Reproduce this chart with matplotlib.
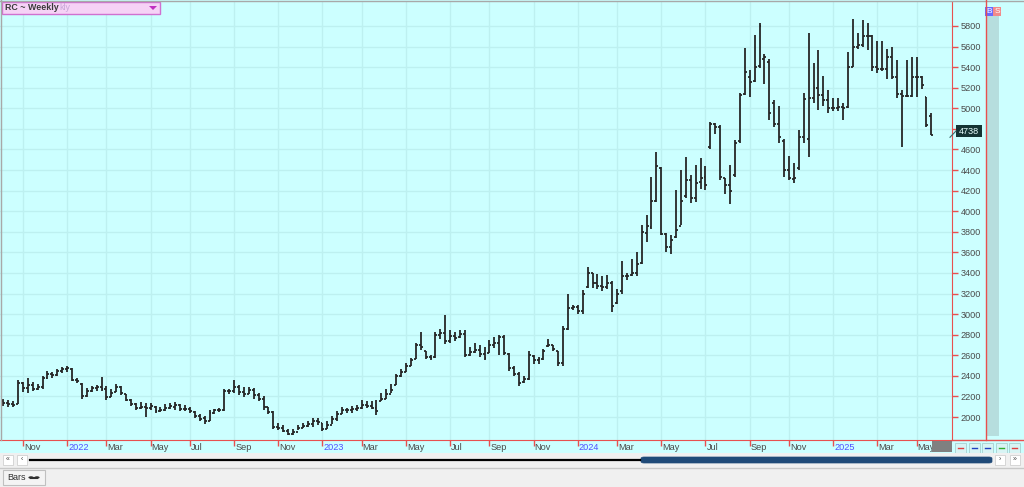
import numpy as np
import pandas as pd
import matplotlib
matplotlib.use('Agg')
from matplotlib import pyplot as plt
from matplotlib import transforms
from matplotlib.patches import Rectangle, FancyBboxPatch, Polygon, Circle

plt.rcParams['font.family'] = ['Liberation Sans', 'DejaVu Sans']

# weekly bars, first bar week of 2021-10-08
start_date = '2021-10-08'
opens = [
    2160, 2140, 2130, 2130, 2330, 2280, 2310, 2270, 2290, 2380,
    2420, 2410, 2450, 2470, 2470, 2360, 2320, 2200, 2250, 2280,
    2290, 2270, 2190, 2240, 2290, 2220, 2170, 2130, 2090, 2100,
    2090, 2100, 2060, 2070, 2090, 2100, 2120, 2080, 2080, 2050,
    2010, 1990, 1960, 2040, 2070, 2070, 2250, 2250, 2290, 2240,
    2220, 2260, 2210, 2180, 2100, 2050, 1900, 1890, 1860, 1840,
    1850, 1890, 1910, 1930, 1960, 1940, 1880, 1920, 1980, 2030,
    2070, 2070, 2080, 2090, 2120, 2110, 2090, 2160, 2180, 2220,
    2310, 2400, 2440, 2500, 2560, 2700, 2640, 2580, 2580, 2800,
    2820, 2740, 2790, 2780, 2810, 2600, 2630, 2650, 2610, 2620,
    2700, 2720, 2780, 2610, 2480, 2420, 2340, 2370, 2590, 2550,
    2560, 2690, 2700, 2640, 2530, 2860, 3060, 3070, 3030, 3260,
    3400, 3300, 3270, 3260, 3300, 3110, 3220, 3370, 3380, 3400,
    3500, 3790, 3850, 4100, 4420, 3780, 3650, 3750, 3860, 4150,
    4300, 4130, 4280, 4330, 4620, 4850, 4820, 4320, 4250, 4350,
    4680, 5140, 5300, 5270, 5410, 5480, 5450, 5050, 4850, 4680,
    4400, 4310, 4420, 4720, 4700, 5100, 5200, 5130, 5080, 5000,
    5000, 5010, 5010, 5400, 5600, 5620, 5700, 5700, 5400, 5380,
    5380, 5500, 5300, 5140, 5120, 5120, 5300, 5300, 5110, 4930,
]
highs = [
    2180, 2170, 2160, 2360, 2340, 2380, 2340, 2320, 2400, 2450,
    2440, 2470, 2490, 2495, 2480, 2380, 2330, 2280, 2300, 2310,
    2390, 2300, 2270, 2320, 2300, 2220, 2180, 2140, 2150, 2140,
    2140, 2110, 2100, 2130, 2140, 2150, 2130, 2120, 2100, 2060,
    2030, 2010, 2070, 2080, 2090, 2270, 2270, 2360, 2310, 2290,
    2290, 2280, 2230, 2200, 2100, 2060, 1940, 1920, 1880, 1880,
    1920, 1940, 1960, 1990, 1990, 1940, 1960, 2010, 2060, 2100,
    2090, 2110, 2120, 2170, 2160, 2160, 2170, 2230, 2270, 2320,
    2420, 2470, 2530, 2570, 2720, 2830, 2640, 2600, 2830, 2860,
    2990, 2850, 2830, 2850, 2850, 2680, 2720, 2700, 2680, 2750,
    2780, 2800, 2800, 2620, 2500, 2440, 2400, 2640, 2600, 2580,
    2660, 2760, 2700, 2640, 2880, 3200, 3090, 3090, 3230, 3460,
    3400, 3390, 3370, 3380, 3320, 3240, 3520, 3400, 3540, 3600,
    3870, 3960, 4330, 4580, 4430, 3790, 3770, 4210, 4400, 4530,
    4350, 4450, 4520, 4440, 4870, 4860, 4840, 4320, 4450, 4690,
    5150, 5590, 5370, 5710, 5830, 5530, 5480, 5080, 5020, 4700,
    4540, 4470, 4790, 5150, 5730, 5440, 5570, 5310, 5180, 5100,
    5100, 5050, 5550, 5870, 5730, 5860, 5830, 5710, 5650, 5650,
    5580, 5600, 5470, 5180, 5470, 5500, 5500, 5310, 5110, 4950,
]
lows = [
    2110, 2100, 2100, 2130, 2240, 2235, 2250, 2260, 2270, 2370,
    2380, 2400, 2430, 2440, 2350, 2330, 2180, 2190, 2240, 2250,
    2250, 2170, 2190, 2240, 2210, 2160, 2110, 2070, 2080, 2000,
    2070, 2040, 2050, 2060, 2080, 2070, 2060, 2060, 2040, 1990,
    1960, 1930, 1960, 2030, 2050, 2060, 2220, 2230, 2210, 2190,
    2220, 2180, 2160, 2070, 2030, 1880, 1870, 1850, 1825, 1830,
    1870, 1890, 1900, 1900, 1920, 1860, 1880, 1930, 1960, 2030,
    2040, 2040, 2060, 2080, 2090, 2080, 2020, 2160, 2180, 2230,
    2310, 2390, 2440, 2500, 2560, 2650, 2560, 2550, 2570, 2760,
    2710, 2720, 2740, 2770, 2580, 2590, 2620, 2580, 2550, 2620,
    2670, 2600, 2600, 2450, 2400, 2300, 2330, 2360, 2520, 2520,
    2550, 2680, 2640, 2500, 2500, 2850, 3040, 3000, 3000, 3250,
    3250, 3240, 3220, 3240, 3020, 3100, 3200, 3330, 3370, 3370,
    3490, 3700, 3830, 4090, 3770, 3600, 3580, 3740, 3870, 4130,
    4080, 4090, 4220, 4210, 4600, 4750, 4300, 4170, 4070, 4330,
    4660, 5130, 5110, 5260, 5390, 5240, 4890, 4820, 4660, 4330,
    4300, 4270, 4400, 4660, 4530, 5050, 4980, 5020, 4950, 4970,
    4970, 4890, 5000, 5400, 5580, 5600, 5570, 5360, 5340, 5360,
    5280, 5280, 5100, 4620, 5110, 5110, 5110, 5190, 4820, 4740,
]
closes = [
    2140, 2130, 2120, 2330, 2280, 2310, 2270, 2290, 2380, 2420,
    2410, 2450, 2470, 2480, 2360, 2350, 2200, 2250, 2280, 2290,
    2270, 2190, 2230, 2290, 2230, 2170, 2130, 2090, 2100, 2090,
    2110, 2060, 2070, 2090, 2110, 2120, 2080, 2080, 2060, 2010,
    1980, 1960, 2040, 2070, 2070, 2250, 2250, 2290, 2240, 2220,
    2260, 2210, 2180, 2100, 2050, 1900, 1890, 1860, 1840, 1850,
    1890, 1910, 1930, 1960, 1950, 1880, 1920, 1980, 2030, 2070,
    2070, 2080, 2090, 2120, 2110, 2090, 2060, 2180, 2220, 2260,
    2400, 2440, 2500, 2550, 2700, 2680, 2580, 2570, 2800, 2820,
    2740, 2790, 2770, 2810, 2600, 2630, 2650, 2610, 2570, 2700,
    2720, 2780, 2620, 2480, 2420, 2330, 2370, 2600, 2550, 2560,
    2640, 2700, 2660, 2530, 2860, 3060, 3070, 3030, 3200, 3400,
    3300, 3270, 3260, 3300, 3080, 3200, 3370, 3370, 3400, 3490,
    3800, 3860, 4100, 4440, 3780, 3650, 3720, 3820, 4100, 4300,
    4130, 4270, 4320, 4250, 4850, 4820, 4330, 4250, 4200, 4660,
    5130, 5350, 5260, 5400, 5800, 5500, 4950, 4850, 4720, 4400,
    4320, 4320, 4720, 5090, 5100, 5200, 5130, 5080, 5000, 5000,
    5010, 5000, 5400, 5600, 5620, 5700, 5700, 5400, 5380, 5380,
    5500, 5300, 5140, 5120, 5120, 5300, 5300, 5230, 4840, 4738,
]
price_ticks = list(range(2000, 6000, 200))
last_price = 4738

W, H = 1024, 487
BG = '#ccffff'
GRID = '#bdf0f0'
RED = '#e8504f'
TXT = '#4a4a4a'


def px(x, y, w, h):
    return [x / W, 1 - (y + h) / H, w / W, h / H]


def fx(x):
    return x / W


def fy(y):
    return 1 - y / H


fig = plt.figure(figsize=(W / 100, H / 100), dpi=100, facecolor=BG)

ax = fig.add_axes(px(0, 2, 952, 438))
ax.set_facecolor(BG)

idx = np.arange(len(closes))
dates = pd.date_range(start_date, periods=len(closes), freq='7D')

ax.vlines(idx, lows, highs, color='#262626', lw=1.3)
ax.hlines(opens, idx - 0.4, idx, color='#262626', lw=1.3)
ax.hlines(closes, idx, idx + 0.4, color='#262626', lw=1.3)

ax.set_xlim(-0.67, 193.2)
ax.set_ylim(1777, 6033)

# month ticks at first bar of each odd month
tick_pos, tick_lab, tick_col = [], [], []
prev = None
for i, d in enumerate(dates):
    key = (d.year, d.month)
    if key != prev and d.month % 2 == 1:
        tick_pos.append(i)
        if d.month == 1:
            tick_lab.append(str(d.year))
            tick_col.append('#5050ff')
        else:
            tick_lab.append(d.strftime('%b'))
            tick_col.append(TXT)
    prev = key

ax.set_xticks(tick_pos)
ax.set_xticklabels([])
ax.tick_params(axis='x', colors=RED, length=4, width=1)
date_tr = transforms.blended_transform_factory(ax.transData, fig.transFigure)
for p, lab, c in zip(tick_pos, tick_lab, tick_col):
    ax.text(p + 0.2, fy(447), lab, color=c, fontsize=6.6, ha='left', va='center',
            transform=date_tr, clip_on=False)

ax.yaxis.tick_right()
ax.set_yticks(price_ticks)
ax.set_yticklabels([str(p) for p in price_ticks])
ax.tick_params(axis='y', colors=RED, length=4, width=1, pad=2, labelsize=6.6)
for lbl in ax.get_yticklabels():
    lbl.set_color(TXT)

ax.grid(True, color=GRID, lw=1)
ax.set_axisbelow(True)
for s in ['top', 'left']:
    ax.spines[s].set_visible(False)
ax.spines['right'].set_color(RED)
ax.spines['bottom'].set_color(RED)

# frame lines
fig.add_artist(plt.Line2D([fx(0.5), fx(0.5)], [fy(0), fy(440)], color='#a8a8a8', lw=1))
fig.add_artist(plt.Line2D([0, 1], [fy(0.5), fy(0.5)], color='#a8a8a8', lw=1))
fig.add_artist(plt.Line2D([fx(985.5), fx(985.5)], [fy(0), fy(440)], color=RED, lw=1))
fig.add_artist(plt.Line2D([fx(952), 1], [fy(440), fy(440)], color=RED, lw=1))

# right side grey column with B / S
fig.add_artist(Rectangle((fx(987), fy(436)), 12 / W, 420 / H, color='#b6dede', lw=0))
fig.add_artist(Rectangle((fx(985), fy(16)), 8 / W, 9 / H, color='#6a6aff', lw=0))
fig.add_artist(Rectangle((fx(993), fy(16)), 8 / W, 9 / H, color='#f28a8a', lw=0))
fig.text(fx(989), fy(11.5), 'B', color='white', fontsize=6, ha='center', va='center')
fig.text(fx(997), fy(11.5), 'S', color='white', fontsize=6, ha='center', va='center')

# last price label
y_last = 417 - (last_price - 2000) * 0.1029
fig.add_artist(Rectangle((fx(956), fy(137)), 26 / W, 12 / H, color='#143434', lw=0))
fig.text(fx(969), fy(131), str(last_price), color='#e8ffff', fontsize=6.6,
         ha='center', va='center')
fig.add_artist(plt.Line2D([fx(950), fx(956)], [fy(y_last + 2), fy(131)], color='#3a6a6a', lw=0.8))

# legend box
fig.add_artist(Rectangle((fx(2), fy(14)), 158 / W, 12 / H, facecolor='#f6d2f6',
                         edgecolor='#d070d0', lw=1))
title = fig.text(fx(5), fy(8), 'RC ~ Weekly', color='#3a3a3a', fontsize=6.4,
                 fontweight='bold', ha='left', va='center')
fig.canvas.draw()
t_end = title.get_window_extent().x1
fig.text((t_end + 1) / W, fy(8), 'kly', color='#c8a8d8', fontsize=6.4, ha='left', va='center')
fig.add_artist(Polygon([[fx(149), fy(6)], [fx(157), fy(6)], [fx(153), fy(10)]],
                       closed=True, color='#c030c0', lw=0))

# grey box on date strip and small buttons
fig.add_artist(Rectangle((fx(932), fy(452)), 20 / W, 11 / H, color='#808080', lw=0))
btn_cols = ['#e04040', '#2040c0', '#2040c0', '#30b030', '#e04040']
for k, c in enumerate(btn_cols):
    bx = 955 + k * 13.5
    fig.add_artist(Rectangle((fx(bx), fy(453)), 11 / W, 10 / H, facecolor='#d8f4f4',
                             edgecolor='#a8d0d0', lw=0.6))
    fig.add_artist(plt.Line2D([fx(bx + 3), fx(bx + 8)], [fy(448), fy(448)], color=c, lw=1))

# scroll bar row
fig.add_artist(Rectangle((0, fy(467)), 1, 14 / H, color='#f0f0f0', lw=0))
for bx, s in [(3, '«'), (17, '‹'), (995, '›'), (1010, '»')]:
    fig.add_artist(Rectangle((fx(bx), fy(465)), 10 / W, 10 / H, facecolor='white',
                             edgecolor='#d0d0d0', lw=0.6))
    fig.text(fx(bx + 5), fy(460), s, color='#404040', fontsize=5, ha='center', va='center')
fig.add_artist(plt.Line2D([fx(30), fx(640)], [fy(460), fy(460)], color='black', lw=1.6))
fig.add_artist(FancyBboxPatch((fx(641), fy(463)), 351 / W, 6 / H,
                              boxstyle='round,pad=0,rounding_size=0.003',
                              facecolor='#1f4a78', edgecolor='#1f4a78', lw=0.5))

# bottom tab row
fig.add_artist(Rectangle((0, 0), 1, 20 / H, color='#f0f0f0', lw=0))
fig.add_artist(plt.Line2D([0, 1], [fy(467.5), fy(467.5)], color='#c8c8c8', lw=1))
fig.add_artist(Rectangle((fx(3), fy(485)), 42 / W, 15 / H, facecolor='#f4f4f4',
                         edgecolor='#c0c0c0', lw=0.8))
fig.text(fx(7), fy(477.5), 'Bars', color='#303030', fontsize=6.5, ha='left', va='center')
fig.add_artist(Circle((fx(31), fy(477.5)), 2.6 / W, color='#303030', lw=0))
fig.add_artist(plt.Line2D([fx(31), fx(37)], [fy(477.5), fy(477.5)], color='#303030', lw=1.5))
fig.add_artist(Circle((fx(37), fy(477.5)), 2.6 / W, color='#303030', lw=0))

fig.savefig('out.png', dpi=100, facecolor=BG)
